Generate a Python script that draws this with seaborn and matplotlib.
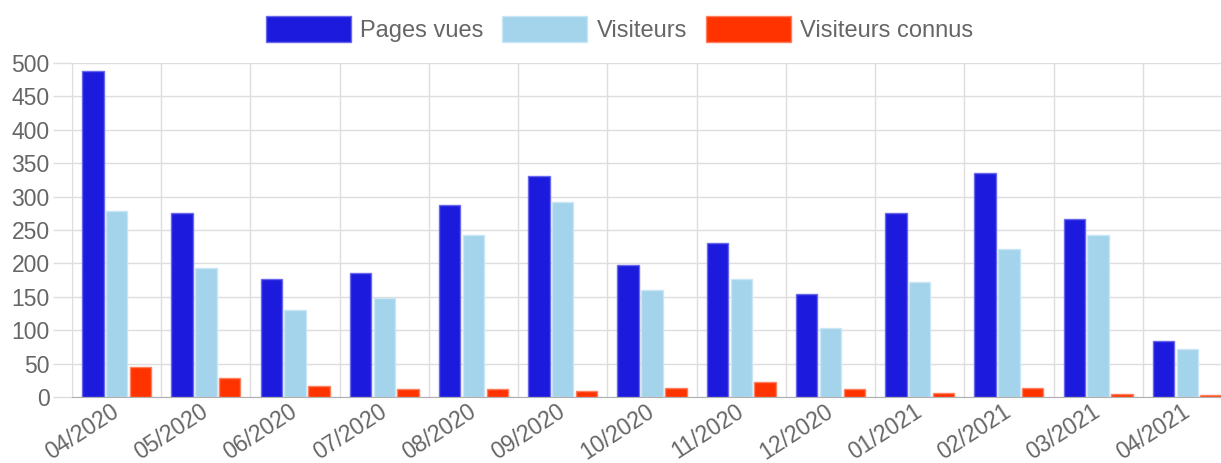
import numpy as np
import pandas as pd
import matplotlib
matplotlib.use('Agg')
import matplotlib.pyplot as plt
import seaborn as sns

# data
months = ['04/2020', '05/2020', '06/2020', '07/2020', '08/2020', '09/2020', '10/2020',
          '11/2020', '12/2020', '01/2021', '02/2021', '03/2021', '04/2021']
pages_vues = [488, 275, 177, 185, 287, 331, 198, 230, 154, 275, 336, 267, 84]
visiteurs = [279, 193, 130, 148, 242, 292, 160, 177, 104, 172, 221, 243, 72]
visiteurs_connus = [45, 29, 17, 12, 12, 9, 14, 23, 12, 6, 14, 5, 3]
series = ['Pages vues', 'Visiteurs', 'Visiteurs connus']
colors = ['#1c1adc', '#a4d4ec', '#ff3300']
edges = ['#6a68ec', '#c8e6f5', '#ff8060']

df = pd.DataFrame({'Mois': months, 'Pages vues': pages_vues,
                   'Visiteurs': visiteurs, 'Visiteurs connus': visiteurs_connus})
long_df = df.melt(id_vars='Mois', var_name='Serie', value_name='Valeur')

sns.set_style('white')
plt.rcParams['font.family'] = ['Liberation Sans', 'DejaVu Sans']

fig = plt.figure(figsize=(12.21, 4.63), dpi=100)
ax = fig.add_axes([72 / 1221, 66 / 463, 1160 / 1221, 334 / 463])

sns.barplot(data=long_df, x='Mois', y='Valeur', hue='Serie', hue_order=series,
            palette=colors, width=0.8, gap=0.1, ax=ax, legend=True, linewidth=1,
            saturation=1)

# lighter border on the bars, Chart.js style
for cont, ec in zip(ax.containers, edges):
    for bar in cont:
        bar.set_edgecolor(ec)

grid_c = '#dedede'
ax.set_xlim(-0.5, len(months) - 0.5)
ax.set_ylim(0, 500)
ax.set_yticks(np.arange(0, 501, 50))
ax.set_xticks(np.arange(-0.5, len(months), 1))
ax.set_xticklabels([])
ax.set_xticks(np.arange(len(months)), months, minor=True)
ax.tick_params(axis='x', which='major', length=13, color=grid_c, width=1)
ax.tick_params(axis='x', which='minor', length=0, pad=9, labelsize=16.5, labelcolor='#666666')
for lab in ax.get_xticklabels(minor=True):
    lab.set_rotation(33)
    lab.set_ha('right')
    lab.set_va('center')
    lab.set_rotation_mode('anchor')
ax.tick_params(axis='y', length=14, color=grid_c, width=1, pad=2, labelsize=16.5,
               labelcolor='#666666', left=True)
ax.grid(True, which='major', color=grid_c, linewidth=1)
ax.set_axisbelow(True)
ax.set_xlabel('')
ax.set_ylabel('')
for s in ['top', 'right']:
    ax.spines[s].set_visible(False)
ax.spines['left'].set_color(grid_c)
ax.spines['bottom'].set_color('#b0b0b0')

handles, labels = ax.get_legend_handles_labels()
ax.get_legend().remove()
for h, ec in zip(handles, edges):
    h.set_edgecolor(ec)
fig.legend(handles, labels, loc='center', bbox_to_anchor=(619.5 / 1221, 1 - 29 / 463),
           ncol=3, frameon=False, fontsize=17, labelcolor='#666666',
           handlelength=3.6, handleheight=1.3, handletextpad=0.4, columnspacing=0.8)

fig.savefig('out.png', dpi=100)
